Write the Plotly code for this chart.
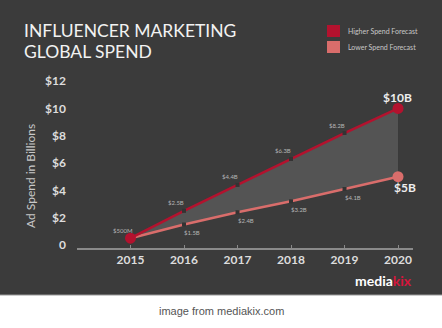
import plotly.graph_objects as go

years = [2015, 2016, 2017, 2018, 2019, 2020]
high = [0.5, 2.5, 4.4, 6.3, 8.2, 10.0]
low = [0.5, 1.5, 2.4, 3.2, 4.1, 5.0]
high_labels = ["$500M", "$2.5B", "$4.4B", "$6.3B", "$8.2B", "$10B"]
low_labels = ["", "$1.5B", "$2.4B", "$3.2B", "$4.1B", "$5B"]
y_ticks = [0, 2, 4, 6, 8, 10, 12]
y_tick_text = ["0", "$2", "$4", "$6", "$8", "$10", "$12"]

W, H = 442, 328
L, R, T, B = 77, 29, 75, 80
PW, PH = W - L - R, H - T - B

def px(x):
    return (x - L) / PW

def py(y):
    return (H - B - y) / PH

BG = "#3b3b3b"
HIGH_C = "#b3122e"
LOW_C = "#d96d6b"
FONT = "Lato, 'Open Sans', sans-serif"

fig = go.Figure()

# fill between the forecasts
fig.add_trace(go.Scatter(x=years, y=low, mode="lines", line=dict(width=0),
                         showlegend=False, hoverinfo="skip"))
fig.add_trace(go.Scatter(x=years, y=high, mode="lines", line=dict(width=0),
                         fill="tonexty", fillcolor="#545454",
                         showlegend=False, hoverinfo="skip"))

# lines with small dark marks at intermediate years
fig.add_trace(go.Scatter(x=years, y=low, mode="lines",
                         line=dict(color=LOW_C, width=2.5), showlegend=False))
fig.add_trace(go.Scatter(x=years, y=high, mode="lines",
                         line=dict(color=HIGH_C, width=2.5), showlegend=False))
fig.add_trace(go.Scatter(x=years[1:-1], y=low[1:-1], mode="markers",
                         marker=dict(symbol="square", size=4, color="#333333", line=dict(width=0)),
                         showlegend=False))
fig.add_trace(go.Scatter(x=years[1:-1], y=high[1:-1], mode="markers",
                         marker=dict(symbol="square", size=4, color="#333333", line=dict(width=0)),
                         showlegend=False))
# endpoint dots
fig.add_trace(go.Scatter(x=[years[-1]], y=[low[-1]], mode="markers",
                         marker=dict(symbol="circle", size=11, color=LOW_C, line=dict(width=0)),
                         showlegend=False))
fig.add_trace(go.Scatter(x=[years[0], years[-1]], y=[high[0], high[-1]], mode="markers",
                         marker=dict(symbol="circle", size=11, color=HIGH_C, line=dict(width=0)),
                         showlegend=False))

annotations = []
# value labels
for i, (yr, v, t) in enumerate(zip(years, high, high_labels)):
    if i == len(years) - 1:
        annotations.append(dict(x=yr, y=v, xref="x", yref="y", text=t, showarrow=False,
                                font=dict(family=FONT, size=12, color="#eeeeee", weight="bold"),
                                xshift=-1, yshift=11))
    else:
        annotations.append(dict(x=yr, y=v, xref="x", yref="y", text=t, showarrow=False,
                                font=dict(family=FONT, size=6, color="#b5b5b5"),
                                xshift=-8, yshift=8))
for i, (yr, v, t) in enumerate(zip(years, low, low_labels)):
    if not t:
        continue
    if i == len(years) - 1:
        annotations.append(dict(x=yr, y=v, xref="x", yref="y", text=t, showarrow=False,
                                font=dict(family=FONT, size=12, color="#eeeeee", weight="bold"),
                                xshift=7, yshift=-11))
    else:
        annotations.append(dict(x=yr, y=v, xref="x", yref="y", text=t, showarrow=False,
                                font=dict(family=FONT, size=6, color="#b5b5b5"),
                                xshift=8, yshift=-8))

# title
annotations.append(dict(x=px(22), y=py(31), xref="paper", yref="paper", xanchor="left",
                        yanchor="middle", text="INFLUENCER MARKETING", showarrow=False,
                        font=dict(family=FONT, size=17.5, color="#f2f2f2")))
annotations.append(dict(x=px(22), y=py(52), xref="paper", yref="paper", xanchor="left",
                        yanchor="middle", text="GLOBAL SPEND", showarrow=False,
                        font=dict(family=FONT, size=17.5, color="#f2f2f2")))
# legend
annotations.append(dict(x=px(346), y=py(31), xref="paper", yref="paper", xanchor="left",
                        yanchor="middle", text="Higher Spend Forecast", showarrow=False,
                        font=dict(family=FONT, size=7, color="#c8c8c8")))
annotations.append(dict(x=px(346), y=py(47), xref="paper", yref="paper", xanchor="left",
                        yanchor="middle", text="Lower Spend Forecast", showarrow=False,
                        font=dict(family=FONT, size=7, color="#c8c8c8")))
# y title
annotations.append(dict(x=px(30), y=py(176), xref="paper", yref="paper", xanchor="center",
                        yanchor="middle", text="Ad Spend in Billions", textangle=-90,
                        showarrow=False, font=dict(family=FONT, size=12, color="#c8c8c8")))
# logo
annotations.append(dict(x=px(414), y=py(280), xref="paper", yref="paper", xanchor="right",
                        yanchor="middle",
                        text="media<span style='color:#d4163c'>kix</span>",
                        showarrow=False, font=dict(family=FONT, size=14, color="#ffffff", weight="bold")))
# caption
annotations.append(dict(x=px(221), y=py(311), xref="paper", yref="paper", xanchor="center",
                        yanchor="middle", text="image from mediakix.com", showarrow=False,
                        font=dict(family="'Liberation Sans', Arial, sans-serif", size=11, color="#555555")))

shapes = [
    dict(type="rect", xref="paper", yref="paper", x0=px(0), x1=px(W), y0=py(295), y1=py(0),
         fillcolor=BG, line=dict(width=0), layer="below"),
    dict(type="line", xref="paper", yref="paper", x0=px(0), x1=px(W), y0=py(295), y1=py(295),
         line=dict(color="#9a9a9a", width=1), layer="below"),
    dict(type="rect", xref="paper", yref="paper", x0=px(327), x1=px(340), y0=py(37), y1=py(25),
         fillcolor=HIGH_C, line=dict(width=0)),
    dict(type="rect", xref="paper", yref="paper", x0=px(327), x1=px(340), y0=py(53), y1=py(41),
         fillcolor=LOW_C, line=dict(width=0)),
]

fig.update_layout(
    width=W, height=H,
    margin=dict(l=L, r=R, t=T, b=B, pad=0),
    paper_bgcolor="#ffffff",
    plot_bgcolor="rgba(0,0,0,0)",
    showlegend=False,
    annotations=annotations,
    shapes=shapes,
    xaxis=dict(range=[2014.0, 2020.28], tickvals=years, ticktext=[str(y) for y in years],
               showgrid=False, zeroline=False, showline=True, linecolor="#8a8a8a", linewidth=2,
               ticks="inside", ticklen=3, tickcolor="#8a8a8a",
               tickfont=dict(family=FONT, size=12, color="#dddddd", weight="bold"),
               fixedrange=True),
    yaxis=dict(range=[-0.22, 12.45], tickvals=y_ticks, ticktext=y_tick_text,
               showgrid=False, zeroline=False, showline=False, ticks="",
               ticklabelstandoff=10,
               tickfont=dict(family=FONT, size=12, color="#dddddd", weight="bold"),
               fixedrange=True),
)

fig.write_html("out.html")
